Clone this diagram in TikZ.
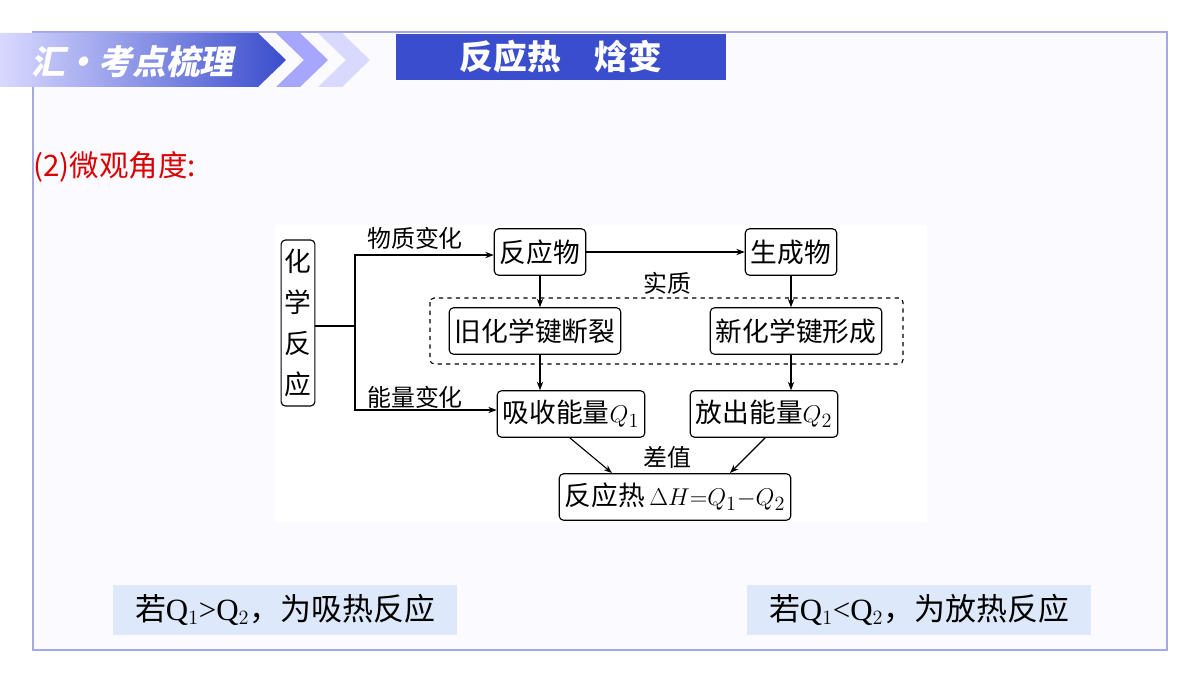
\documentclass[tikz,border=0pt]{standalone}
\usepackage{fontspec}
\setmainfont{Liberation Serif}
\newfontfamily\cjk{Noto Sans CJK SC}
\usetikzlibrary{arrows.meta}
\definecolor{hdblue}{HTML}{3A4DCC}
\definecolor{frameblue}{HTML}{A3A9E6}
\definecolor{tipblue}{HTML}{DDE8FA}
\tikzset{
	box/.style={draw,rounded corners=3pt,thick,fill=white,minimum height=33pt,inner sep=4pt,font=\cjk\fontsize{19}{22}\selectfont},
	lbl/.style={font=\cjk\fontsize{17}{19}\selectfont,inner sep=1pt},
	tip/.style={fill=tipblue,minimum width=245pt,minimum height=35pt,font=\cjk\fontsize{22}{24}\selectfont}
	}

\begin{document}
\begin{tikzpicture}[x=0.025cm,y=-0.025cm,>={Stealth[length=6pt]}]
		\path[use as bounding box,fill=white] (0,0) rectangle (1200,675);
		
		%% frame and header
		\draw[frameblue,thick,fill=blue!2] (33,32) rectangle (1167,650);
		\shade[left color=blue!15,right color=hdblue] (0,33) -- (258,33) -- (286,60) -- (258,87) -- (0,87) -- cycle;
		\fill[blue!35] (276,33) -- (300,33) -- (328,60) -- (300,87) -- (276,87) -- (304,60) -- cycle;
		\fill[blue!15] (318,33) -- (342,33) -- (370,60) -- (342,87) -- (318,87) -- (346,60) -- cycle;
		\node[white,font=\cjk\bfseries\fontsize{24}{26}\selectfont,xslant=0.2] (hdl) at (135,62) {汇·考点梳理};
		\node[fill=hdblue,minimum width=235pt,minimum height=33pt,inner sep=0pt] (hdr) at (561,57) {};
		\node[white,font=\cjk\bfseries\fontsize{24}{26}\selectfont] (hdt) at (hdr) {反应热\quad 焓变};
		\node[red!85!black,anchor=west,font=\cjk\fontsize{21}{23}\selectfont,inner sep=0pt] (sub) at (33,167) {(2)微观角度:};
		
		%% diagram
		\fill[white] (275,225) rectangle (927,522);
		\draw[dashed,thick,rounded corners=3pt] (430,298) rectangle (903,364);
		\node[box,text width=20pt,align=center,minimum height=118pt,inner sep=2pt,font=\cjk\fontsize{19}{29}\selectfont] (hx) at (298,323) {化\\学\\反\\应};
		\node[box] (fyw) at (540,252) {反应物};
		\node[box] (scw) at (791,252) {生成物};
		\node[box] (jhx) at (535,331) {旧化学键断裂};
		\node[box] (xhx) at (796,331) {新化学键形成};
		\node[box] (xs) at (571,414) {吸收能量$Q_1$};
		\node[box] (fc) at (764,414) {放出能量$Q_2$};
		\node[box] (fyr) at (675,497) {反应热\,$\Delta H{=}Q_1{-}Q_2$};
		\node[lbl] (wz) at (415,238) {物质变化};
		\node[lbl] (nl) at (415,397) {能量变化};
		\node[lbl] (sz) at (667,283) {实质};
		\node[lbl] (cz) at (667,457) {差值};
		\coordinate (br) at (355,326);
		\draw[thick] (hx.east |- br) -- (br);
		\draw[thick,->] (br) |- (fyw.west |- 0,255);
		\draw[thick,->] (br) |- (xs.west |- 0,410);
		\draw[thick,->] (fyw) -- (scw);
		\draw[thick,->] (fyw.south) -- (fyw.south |- jhx.north);
		\draw[thick,->] (scw.south) -- (scw.south |- xhx.north);
		\draw[thick,->] (jhx.south -| fyw) -- (xs.north -| fyw);
		\draw[thick,->] (xhx.south -| scw) -- (fc.north -| scw);
		\draw[thick,->] (570,438) -- (612,473);
		\draw[thick,->] (765,438) -- (730,473);
		
		%% tips
		\node[tip] (t1) at (285,610) {若{\rmfamily Q$_1$>Q$_2$}，为吸热反应};
		\node[tip] (t2) at (919,610) {若{\rmfamily Q$_1$<Q$_2$}，为放热反应};
	\end{tikzpicture}
\end{document}
